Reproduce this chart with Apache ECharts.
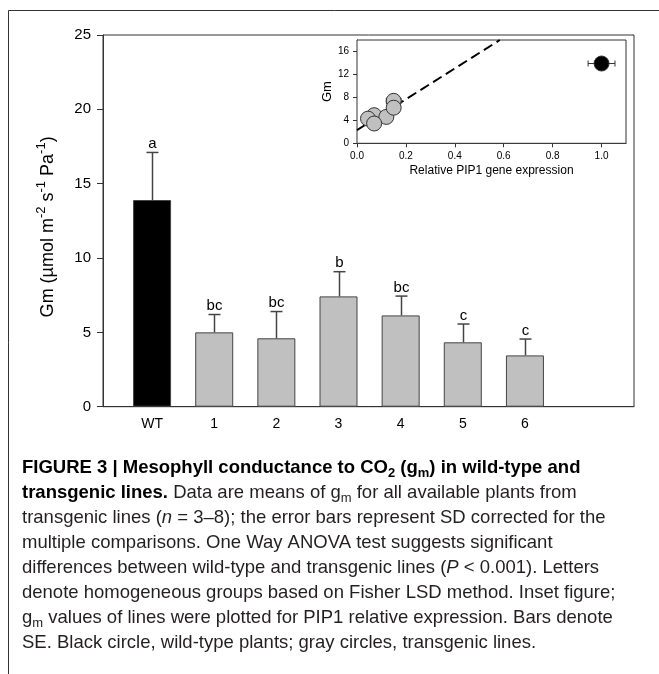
<!DOCTYPE html>
<html><head><meta charset="utf-8">
<script src="https://cdn.jsdelivr.net/npm/echarts@6/dist/echarts.min.js"></script>
<style>html,body{margin:0;padding:0;background:#fff}#c{width:659px;height:674px}</style>
</head><body><div id="c"></div>
<script>
// ---- main bar chart data ----
const categories = ['WT', '1', '2', '3', '4', '5', '6'];
const gmMeans = [13.9, 5.0, 4.6, 7.42, 6.14, 4.33, 3.45];
const gmSD = [3.2, 1.2, 1.8, 1.66, 1.3, 1.23, 1.1];
const groupLetters = ['a', 'bc', 'bc', 'b', 'bc', 'c', 'c'];
const mainYTicks = [0, 5, 10, 15, 20, 25];

// ---- inset data ----
const insetPIP1 = [1.0, 0.07, 0.12, 0.15, 0.15, 0.045, 0.07];
const insetGm = [13.9, 4.9, 4.6, 7.4, 6.2, 4.3, 3.45];
const insetPipSE = [0.055, 0.012, 0.025, 0.03, 0.025, 0.012, 0.012];
const insetGmSE = [0.9, 0.6, 0.9, 0.7, 0.8, 0.5, 0.5];
const fitLine = [[0, 2.3], [0.584, 18]];
const insetXTicks = [0, 0.2, 0.4, 0.6, 0.8, 1.0];
const insetYTicks = [0, 4, 8, 12, 16];

const AX = '#333';
const FONT = 'Liberation Sans, Arial, sans-serif';

const chart = echarts.init(document.getElementById('c'), null, {renderer: 'canvas'});

const captionLines = [
  '{b|FIGURE 3 | Mesophyll conductance to CO}{bs|2}{b| (g}{bs|m}{b|) in wild-type and}',
  '{b|transgenic lines.}{r| Data are means of g}{s|m}{r| for all available plants from}',
  '{r|transgenic lines (}{i|n}{r| = 3–8); the error bars represent SD corrected for the}',
  '{r|multiple comparisons. One Way ANOVA test suggests significant}',
  '{r|differences between wild-type and transgenic lines (}{i|P}{r| < 0.001). Letters}',
  '{r|denote homogeneous groups based on Fisher LSD method. Inset figure;}',
  '{r|g}{s|m}{r| values of lines were plotted for PIP1 relative expression. Bars denote}',
  '{r|SE. Black circle, wild-type plants; gray circles, transgenic lines.}'
];
const CAP_FS = 18.5, CAP_LH = 25;
const capRich = {
  b: {fontFamily: FONT, fontSize: CAP_FS, fontWeight: 'bold', fill: '#000', lineHeight: CAP_LH},
  bs: {fontFamily: FONT, fontSize: 13, fontWeight: 'bold', fill: '#000', lineHeight: 17, verticalAlign: 'bottom'},
  r: {fontFamily: FONT, fontSize: CAP_FS, fill: '#231f20', lineHeight: CAP_LH},
  i: {fontFamily: FONT, fontSize: CAP_FS, fontStyle: 'italic', fill: '#231f20', lineHeight: CAP_LH},
  s: {fontFamily: FONT, fontSize: 13, fill: '#231f20', lineHeight: 17, verticalAlign: 'bottom'}
};

const option = {
  backgroundColor: '#fff',
  animation: false,
  graphic: [
    {type: 'rect', shape: {x: 8.5, y: 10.5, width: 700, height: 700},
     style: {fill: 'none', stroke: '#333', lineWidth: 1}, z: 0},
    {type: 'text', left: 22, top: 455,
     style: {text: captionLines.join('\n'), rich: capRich, fontFamily: FONT, fontSize: CAP_FS, lineHeight: CAP_LH, fill: '#231f20'}}
  ],
  grid: [
    {left: 103, top: 35, width: 531, height: 371.7, show: true, borderColor: AX, borderWidth: 1, backgroundColor: 'transparent'},
    {left: 121, top: 35, width: 435, height: 371.7},
    {left: 357, top: 40, width: 269, height: 103.3, show: true, borderColor: AX, borderWidth: 1, backgroundColor: '#fff', z: 3}
  ],
  xAxis: [
    {gridIndex: 0, type: 'value', min: 0, max: 1, axisLine: {show: true, lineStyle: {color: AX}},
     axisTick: {show: false}, axisLabel: {show: false}, splitLine: {show: false}},
    {gridIndex: 1, type: 'category', data: categories, axisLine: {show: false}, axisTick: {show: false},
     axisLabel: {color: '#000', fontSize: 14, fontFamily: FONT, margin: 10}},
    {gridIndex: 2, type: 'value', min: 0, max: 1.1, splitLine: {show: false},
     axisLine: {lineStyle: {color: AX}},
     axisTick: {length: 4, customValues: insetXTicks, lineStyle: {color: AX}},
     axisLabel: {customValues: insetXTicks, formatter: v => v.toFixed(1), color: '#000', fontSize: 10, fontFamily: FONT, margin: 8},
     name: 'Relative PIP1 gene expression', nameLocation: 'middle', nameGap: 21,
     nameTextStyle: {color: '#000', fontSize: 12, fontFamily: FONT}}
  ],
  yAxis: [
    {gridIndex: 0, type: 'value', min: 0, max: 25, interval: 5, splitLine: {show: false},
     axisLine: {show: true, lineStyle: {color: AX}},
     axisTick: {show: true, length: 6, lineStyle: {color: AX}},
     axisLabel: {color: '#000', fontSize: 15, fontFamily: FONT, margin: 12},
     name: '{t|Gm (µmol m}{s|-2}{t| s}{s|-1}{t| Pa}{s|-1}{t|)}', nameLocation: 'middle', nameGap: 42,
     nameTextStyle: {padding: [0, 12, 0, 0], rich: {
       t: {fontSize: 18, fontFamily: FONT, color: '#000', lineHeight: 26},
       s: {fontSize: 13, fontFamily: FONT, color: '#000', lineHeight: 12, verticalAlign: 'top'}
     }}},
    {gridIndex: 1, type: 'value', min: 0, max: 25, show: false, splitLine: {show: false}},
    {gridIndex: 2, type: 'value', min: 0, max: 18, splitLine: {show: false},
     axisLine: {show: true, lineStyle: {color: AX}},
     axisTick: {show: true, length: 4, customValues: insetYTicks, lineStyle: {color: AX}},
     axisLabel: {customValues: insetYTicks, color: '#000', fontSize: 10, fontFamily: FONT, margin: 8},
     name: 'Gm', nameLocation: 'middle', nameGap: 22,
     nameTextStyle: {color: '#000', fontSize: 13, fontFamily: FONT}}
  ],
  series: [
    {type: 'bar', xAxisIndex: 1, yAxisIndex: 1, barWidth: 38,
     data: gmMeans.map((v, i) => ({value: v, itemStyle: {color: i === 0 ? '#000' : '#c0c0c0', borderColor: '#444', borderWidth: 1}}))},
    {type: 'custom', xAxisIndex: 1, yAxisIndex: 1, z: 3,
     data: gmMeans.map((v, i) => [i, v, gmSD[i]]),
     renderItem: function (params, api) {
       const i = api.value(0), m = api.value(1), sd = api.value(2);
       const p0 = api.coord([i, m]), p1 = api.coord([i, m + sd]);
       const x = Math.round(p0[0]) + 0.5;
       const st = {stroke: '#444', lineWidth: 1.5};
       return {type: 'group', children: [
         {type: 'line', shape: {x1: x, y1: p0[1], x2: x, y2: p1[1]}, style: st},
         {type: 'line', shape: {x1: x - 6, y1: p1[1], x2: x + 6, y2: p1[1]}, style: st},
         {type: 'text', style: {text: groupLetters[params.dataIndex], x: x, y: p1[1] - 1,
           align: 'center', verticalAlign: 'bottom', fill: '#000', fontSize: 15, fontFamily: FONT}}
       ]};
     }},
    {type: 'line', xAxisIndex: 2, yAxisIndex: 2, data: fitLine, showSymbol: false, symbol: 'none', z: 4,
     lineStyle: {color: '#000', width: 2, type: [10, 5]}},
    {type: 'custom', xAxisIndex: 2, yAxisIndex: 2, z: 5,
     data: insetPIP1.map((x, i) => [x, insetGm[i], insetPipSE[i], insetGmSE[i]]),
     renderItem: function (params, api) {
       const x = api.value(0), y = api.value(1), ex = api.value(2), ey = api.value(3);
       const l = api.coord([x - ex, y]), r = api.coord([x + ex, y]);
       const t = api.coord([x, y + ey]), b = api.coord([x, y - ey]);
       const st = {stroke: '#333', lineWidth: 1};
       const c = 3;
       return {type: 'group', children: [
         {type: 'line', shape: {x1: l[0], y1: l[1], x2: r[0], y2: r[1]}, style: st},
         {type: 'line', shape: {x1: l[0], y1: l[1] - c, x2: l[0], y2: l[1] + c}, style: st},
         {type: 'line', shape: {x1: r[0], y1: r[1] - c, x2: r[0], y2: r[1] + c}, style: st},
         {type: 'line', shape: {x1: t[0], y1: t[1], x2: b[0], y2: b[1]}, style: st},
         {type: 'line', shape: {x1: t[0] - c, y1: t[1], x2: t[0] + c, y2: t[1]}, style: st},
         {type: 'line', shape: {x1: b[0] - c, y1: b[1], x2: b[0] + c, y2: b[1]}, style: st}
       ]};
     }},
    {type: 'scatter', xAxisIndex: 2, yAxisIndex: 2, z: 6, symbolSize: 15,
     data: insetPIP1.map((x, i) => ({value: [x, insetGm[i]],
       itemStyle: {color: i === 0 ? '#000' : '#c0c0c0', borderColor: '#333', borderWidth: 1, opacity: 1}}))}
  ]
};
chart.setOption(option);
</script>
</body></html>
